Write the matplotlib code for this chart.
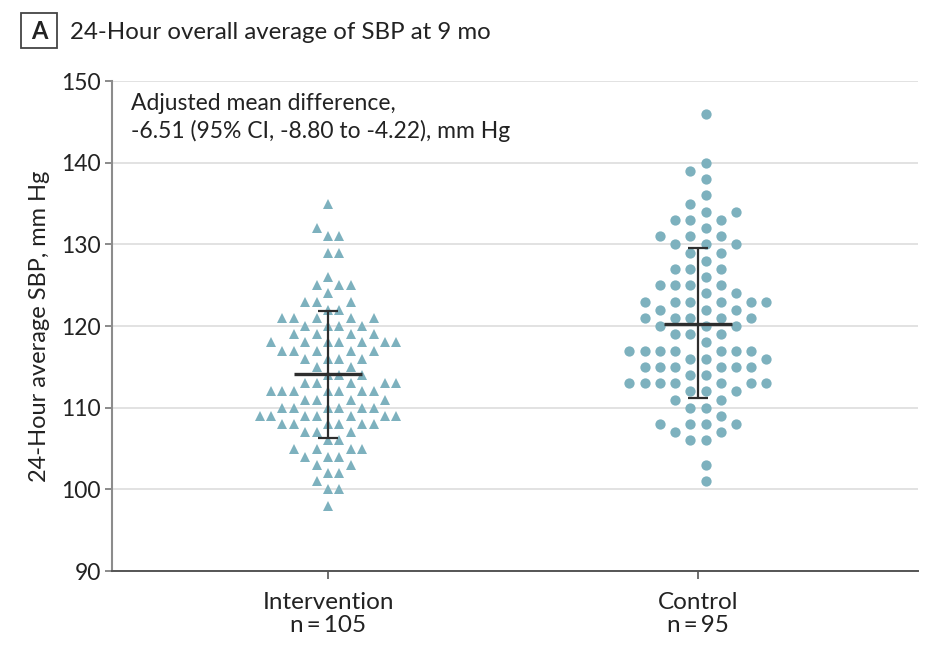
import numpy as np
import matplotlib
matplotlib.use("Agg")
import matplotlib.pyplot as plt
from matplotlib import font_manager
from matplotlib.patches import Rectangle

# ---------------- data ----------------
groups = ["Intervention", "Control"]
group_n = [105, 95]

intervention_sbp = [135, 132, 131, 131, 129, 129, 126, 125, 125, 125, 124,
                    123, 123, 123, 122, 122, 121, 121, 121, 121, 121,
                    120, 120, 120, 120, 119, 119, 119, 119,
                    118, 118, 118, 118, 118, 118, 118, 117, 117, 117, 117, 117,
                    116, 116, 116, 116, 115, 115, 114, 114, 114,
                    113, 113, 113, 113, 113, 112, 112, 112, 112, 112, 112, 112,
                    111, 111, 111, 111, 110, 110, 110, 110, 110, 110,
                    109, 109, 109, 109, 109, 109, 109, 108, 108, 108, 108, 108, 108,
                    107, 107, 107, 106, 106, 105, 105, 105, 105, 104, 104, 104,
                    103, 103, 102, 102, 101, 100, 100, 98]

control_sbp = [146, 140, 139, 138, 136, 135, 134, 134, 133, 133, 133, 132,
               131, 131, 131, 130, 130, 130, 129, 129, 128, 127, 127, 127, 126,
               125, 125, 125, 125, 124, 124, 123, 123, 123, 123, 123, 123,
               122, 122, 122, 121, 121, 121, 121, 121, 120, 120, 120,
               119, 119, 119, 118, 117, 117, 117, 117, 117, 117, 117,
               116, 116, 116, 115, 115, 115, 115, 115, 115, 114, 114,
               113, 113, 113, 113, 113, 113, 113, 112, 112, 112, 111, 111,
               110, 110, 109, 108, 108, 108, 108, 107, 107, 106, 106, 103, 101]

group_mean = [114.1, 120.3]
bar_low = [106.3, 111.2]
bar_high = [121.8, 129.5]

y_ticks = [90, 100, 110, 120, 130, 140, 150]
title_text = "24-Hour overall average of SBP at 9 mo"
panel_letter = "A"
annot_lines = ["Adjusted mean difference,",
               "-6.51 (95% CI, -8.80 to -4.22), mm Hg"]
y_label = "24-Hour average SBP, mm Hg"

# ---------------- fonts ----------------
avail = {f.name for f in font_manager.fontManager.ttflist}
main_font = "Lato" if "Lato" in avail else "Liberation Sans"
plt.rcParams["font.family"] = [main_font, "DejaVu Sans"]

POINT_COLOR = "#7db1be"
DARK = "#2e2e2e"
TEXT = "#222222"


def grid_swarm(vals, half):
    """Greedy grid beeswarm: nearest free column, avoiding same column in adjacent rows."""
    vals = np.asarray(vals, dtype=float)
    order = np.argsort(vals, kind="stable")
    if half:
        cand = []
        for k in range(40):
            cand += [k + 0.5, -(k + 0.5)]
    else:
        cand = [0]
        for k in range(1, 40):
            cand += [k, -k]
    cols = np.zeros(len(vals))
    pv, pc = [], []
    for i in order:
        v = vals[i]
        chosen = cand[-1]
        for c in cand:
            ok = True
            for a, b in zip(pv, pc):
                if abs(a - v) <= 1 and abs(b - c) < 1:
                    ok = False
                    break
            if ok:
                chosen = c
                break
        cols[i] = chosen
        pv.append(v)
        pc.append(chosen)
    return cols


fig = plt.figure(figsize=(9.52, 6.55), dpi=100)
ax = fig.add_axes([112 / 952, 1 - 571 / 655, 806 / 952, 490 / 655])

half_width = 0.185
datasets = [intervention_sbp, control_sbp]
markers = ["^", "o"]
msizes = [7.8, 7.4]
for gi, (vals, mk, ms) in enumerate(zip(datasets, markers, msizes)):
    cols = grid_swarm(vals, half=(gi == 1))
    offs = cols / np.max(np.abs(cols)) * half_width
    ax.plot(gi + offs, vals, linestyle="none", marker=mk, markersize=ms,
            color=POINT_COLOR, markeredgewidth=0, zorder=3)

# mean and bars
for gi in range(2):
    ax.plot([gi, gi], [bar_low[gi], bar_high[gi]], color=DARK, lw=1.6,
            zorder=4, solid_capstyle="butt")
    for yv in (bar_low[gi], bar_high[gi]):
        ax.plot([gi - 0.027, gi + 0.027], [yv, yv], color=DARK, lw=1.6,
                zorder=4, solid_capstyle="butt")
    ax.plot([gi - 0.091, gi + 0.091], [group_mean[gi], group_mean[gi]],
            color=DARK, lw=2.4, zorder=4, solid_capstyle="butt")

ax.set_xlim(-0.584, 1.595)
ax.set_ylim(90, 150)
ax.set_yticks(y_ticks)
ax.set_xticks([0, 1])
ax.set_xticklabels([f"{g}\nn\u2009=\u2009{n}" for g, n in zip(groups, group_n)],
                   fontsize=17.5, color=TEXT, linespacing=1.1)
ax.tick_params(axis="y", labelsize=16.5, colors="#777777", labelcolor=TEXT,
               length=5, width=1.2, pad=3)
ax.tick_params(axis="x", colors="#555555", labelcolor=TEXT, length=6,
               width=1.2, pad=9)
ax.yaxis.grid(True, color="#dddddd", lw=1.2, zorder=0)
ax.set_axisbelow(True)
for s in ["top", "right"]:
    ax.spines[s].set_visible(False)
ax.spines["left"].set_color("#8c8c8c")
ax.spines["left"].set_linewidth(1.5)
ax.spines["bottom"].set_color("#555555")
ax.spines["bottom"].set_linewidth(1.4)
ax.set_ylabel(y_label, fontsize=17, color=TEXT, labelpad=8)

# annotation
fig.text(131 / 952, 1 - 110 / 655, annot_lines[0], fontsize=16.5, color=TEXT,
         va="baseline", ha="left")
fig.text(131 / 952, 1 - 138 / 655, annot_lines[1], fontsize=16.5, color=TEXT,
         va="baseline", ha="left")

# panel header
fig.patches.append(Rectangle((21 / 952, 1 - 48 / 655), 36 / 952, 35 / 655,
                             transform=fig.transFigure, fill=False,
                             edgecolor="#444444", lw=1.3))
fig.text(39 / 952, 1 - 39 / 655, panel_letter, fontsize=17, fontweight="bold",
         color=TEXT, ha="center", va="baseline")
fig.text(70 / 952, 1 - 39 / 655, title_text, fontsize=17.3, color=TEXT,
         ha="left", va="baseline")

fig.savefig("out.png", dpi=100, facecolor="white")
